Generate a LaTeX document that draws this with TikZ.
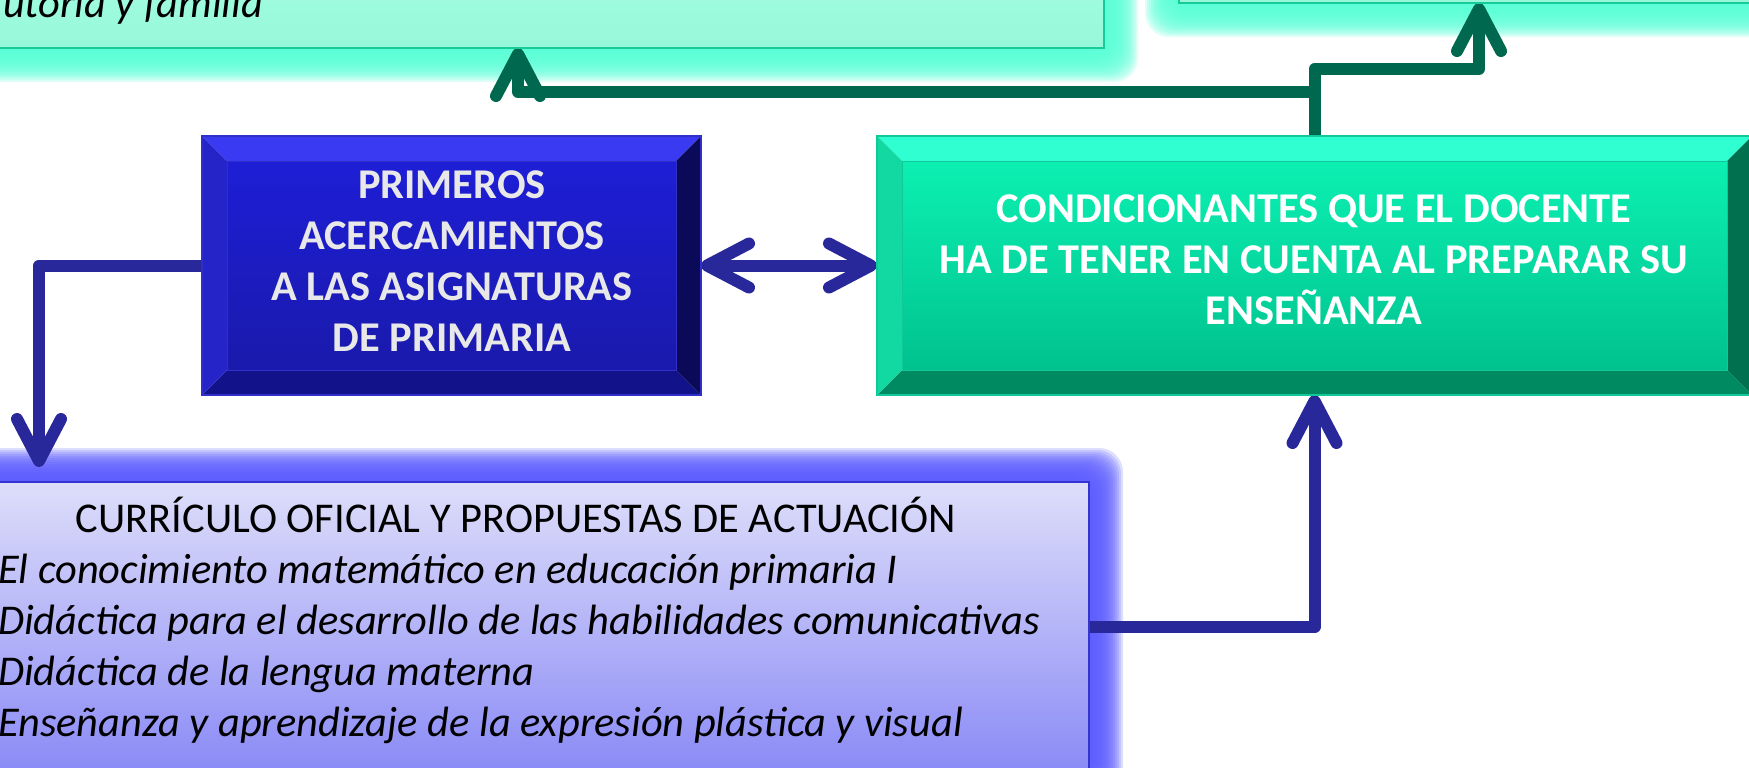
\documentclass[tikz,border=0pt]{standalone}
\usepackage{fontspec}
\setmainfont{Carlito}
\usetikzlibrary{arrows.meta,calc}
\definecolor{navyarrow}{HTML}{28289A}
\definecolor{greenarrow}{HTML}{00684E}
\definecolor{bluetopbev}{HTML}{3A3AF2}
\definecolor{blueleftbev}{HTML}{2424C8}
\definecolor{bluerightbev}{HTML}{0A0A58}
\definecolor{bluebotbev}{HTML}{12128A}
\definecolor{bluein1}{HTML}{1E1ED6}
\definecolor{bluein2}{HTML}{1A1AAC}
\definecolor{blueedge}{HTML}{3030C8}
\definecolor{greentopbev}{HTML}{30FFD2}
\definecolor{greenleftbev}{HTML}{12D8A2}
\definecolor{greenrightbev}{HTML}{00704F}
\definecolor{greenbotbev}{HTML}{008A62}
\definecolor{greenin1}{HTML}{0CF0B2}
\definecolor{greenin2}{HTML}{00C28F}
\definecolor{greenedge}{HTML}{10C898}
\definecolor{minttop}{HTML}{A8FFE6}
\definecolor{mintbot}{HTML}{96F8D8}
\definecolor{mintglow}{HTML}{5AFFD8}
\definecolor{mintline}{HTML}{18CC98}
\definecolor{lavtop}{HTML}{DEDEFA}
\definecolor{lavbot}{HTML}{8A8AF6}
\definecolor{lavglow}{HTML}{5C5CFF}
\definecolor{lavline}{HTML}{3434D0}
\definecolor{textgray}{HTML}{E8E8E8}
\tikzset{
  boxshape/.style={rectangle, draw=none, inner sep=0pt, outer sep=0pt},
  barbtip/.tip={Straight Barb[length=21pt,width=22pt,round]},
  barrow/.style={draw=navyarrow, line width=6pt, line join=round, -barbtip},
  bbarrow/.style={draw=navyarrow, line width=6pt, line join=round, barbtip-barbtip},
  garrow/.style={draw=greenarrow, line width=6pt, line join=round, -barbtip},
  titlefont/.style={font=\bfseries\fontsize{21.2}{25.5}\selectfont, align=center},
  listfont/.style={font=\itshape\fontsize{21.2}{25.5}\selectfont, anchor=base west},
}
\newcommand\bevbox[8]{%
  \fill[#2] (#1.north west) -- (#1.north east) -- ($(#1.north east)+(-25,25)$) -- ($(#1.north west)+(25,25)$) -- cycle;
  \fill[#5] (#1.south west) -- (#1.south east) -- ($(#1.south east)+(-25,-25)$) -- ($(#1.south west)+(25,-25)$) -- cycle;
  \fill[#3] (#1.north west) -- ($(#1.north west)+(25,25)$) -- ($(#1.south west)+(25,-25)$) -- (#1.south west) -- cycle;
  \fill[#4] (#1.north east) -- ($(#1.north east)+(-25,25)$) -- ($(#1.south east)+(-25,-25)$) -- (#1.south east) -- cycle;
  \shade[top color=#6, bottom color=#7] ($(#1.north west)+(25,25)$) rectangle ($(#1.south east)+(-25,-25)$);
  \draw[#8, line width=0.5pt] ($(#1.north west)+(25,25)$) rectangle ($(#1.south east)+(-25,-25)$);
  \draw[#8, line width=0.8pt] (#1.north west) rectangle (#1.south east);
}
\begin{document}
\begin{tikzpicture}[x=0.5pt,y=-0.5pt]
\useasboundingbox (0,0) rectangle (1749,767);
\fill[white] (0,0) rectangle (1749,767);
% box frames
\node[boxshape, minimum width=572pt, minimum height=54pt] (tl) at (532,-6) {};
\node[boxshape, minimum width=310.5pt, minimum height=31.5pt] (tr) at (1489.5,-28.5) {};
\node[boxshape, minimum width=249.5pt, minimum height=129.5pt] (blue) at (451.5,265.5) {};
\node[boxshape, minimum width=437.5pt, minimum height=129.5pt] (green) at (1314.5,265.5) {};
\node[boxshape, minimum width=564.5pt, minimum height=145pt] (cur) at (524.5,627) {};
% glows
\foreach \r in {2,4,...,34} {
  \fill[mintglow, opacity=0.2, rounded corners=12pt] ($(tl.north west)+(-\r,-\r)$) rectangle ($(tl.south east)+(\r,\r)$);
  \fill[mintglow, opacity=0.2, rounded corners=12pt] ($(tr.north west)+(-\r,-\r)$) rectangle ($(tr.south east)+(\r,\r)$);
  \fill[lavglow, opacity=0.2, rounded corners=12pt] ($(cur.north west)+(-\r,-\r)$) rectangle ($(cur.south east)+(\r,\r)$);
}
% connector points
\coordinate (hA) at (0,92);
\coordinate (hB) at (0,69);
\coordinate (tipTL) at (518,48);
\coordinate (tipTR) at (1479,3);
\coordinate (tipCur) at (39,467);
% arrows
\draw[garrow] (green.north) -- (green.north |- hA) -| (tipTL);
\draw[garrow] (green.north |- hA) -- (green.north |- hB) -| (tipTR);
\draw[barrow] (blue.west) -| (tipCur);
\draw[bbarrow] (blue.east) -- (green.west);
\draw[barrow] (cur.east) -| (green.south);
% mint boxes
\shade[top color=minttop, bottom color=mintbot] (tl.north west) rectangle (tl.south east);
\draw[mintline, line width=1.2pt] (tl.north west) rectangle (tl.south east);
\shade[top color=minttop, bottom color=mintbot] (tr.north west) rectangle (tr.south east);
\draw[mintline, line width=1.2pt] (tr.north west) rectangle (tr.south east);
\node[listfont] (tltext) at (-4,17) {utoria y familia};
% bevel boxes
\bevbox{blue}{bluetopbev}{blueleftbev}{bluerightbev}{bluebotbev}{bluein1}{bluein2}{blueedge}
\bevbox{green}{greentopbev}{greenleftbev}{greenrightbev}{greenbotbev}{greenin1}{greenin2}{greenedge}
\node[titlefont, text=textgray] (bluetext) at (452,261) {PRIMEROS\\ACERCAMIENTOS\\A LAS ASIGNATURAS\\DE PRIMARIA};
\node[titlefont, text=white] (greentext) at (1314,259.5) {CONDICIONANTES QUE EL DOCENTE\\HA DE TENER EN CUENTA AL PREPARAR SU\\ENSEÑANZA};
% curriculum box
\shade[top color=lavtop, bottom color=lavbot] (cur.north west) rectangle (cur.south east);
\draw[lavline, line width=1pt] (cur.north west) rectangle (cur.south east);
\node[font=\fontsize{21.2}{25.5}\selectfont, anchor=base] (curtitle) at (516,532) {CURRÍCULO OFICIAL Y PROPUESTAS DE ACTUACIÓN};
\node[listfont] (l1) at (-9,583) {El conocimiento matemático en educación primaria I};
\node[listfont] (l2) at (-9,634) {Didáctica para el desarrollo de las habilidades comunicativas};
\node[listfont] (l3) at (-9,685) {Didáctica de la lengua materna};
\node[listfont] (l4) at (-9,736) {Enseñanza y aprendizaje de la expresión plástica y visual};
\end{tikzpicture}
\end{document}
